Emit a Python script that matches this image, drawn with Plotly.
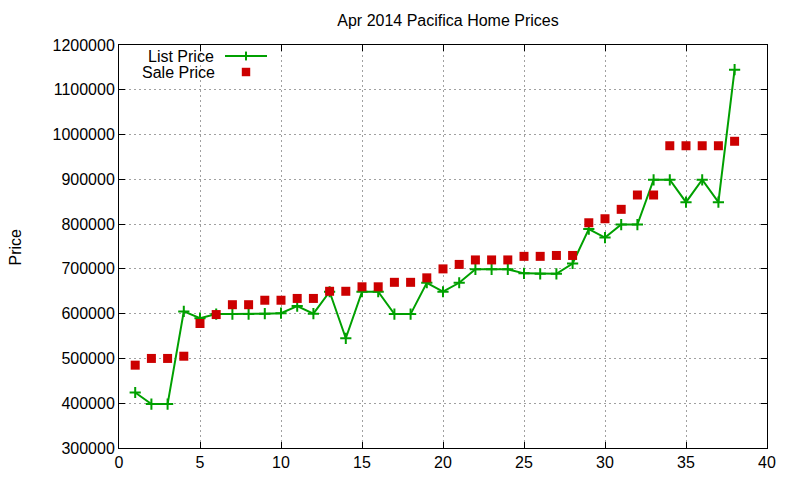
import plotly.graph_objects as go

# sale index (x axis)
houses = list(range(1, 39))

# asking price per house
list_price = [424000, 398000, 398000, 605000, 590000, 599000, 599000, 599000, 600000, 601000,
              617000, 600000, 649000, 545000, 649000, 649000, 599000, 599000, 669000, 649000,
              669000, 699000, 699000, 699000, 690000, 689000, 689000, 712000, 789000, 770000,
              799000, 799000, 899000, 899000, 849000, 899000, 849000, 1145000]

# price actually paid
sale_price = [485000, 500000, 500000, 505000, 578000, 598000, 620000, 620000, 630000, 630000,
              634000, 634000, 650000, 650000, 660000, 660000, 670000, 670000, 680000, 700000,
              710000, 720000, 720000, 720000, 728000, 728000, 730000, 730000, 803000, 812000,
              833000, 865000, 865000, 975000, 975000, 975000, 975000, 985000]

x_ticks = [0, 5, 10, 15, 20, 25, 30, 35, 40]
y_ticks = list(range(300000, 1200001, 100000))

green = "#00a000"
red = "#cc0000"
font = "Liberation Sans, Arial, sans-serif"
fsize = 16

fig = go.Figure()
fig.add_trace(go.Scatter(
    x=houses, y=list_price, mode="lines+markers", name="List Price",
    line=dict(color=green, width=2),
    marker=dict(symbol="cross-thin", size=8, line=dict(color=green, width=2)),
))
fig.add_trace(go.Scatter(
    x=houses, y=sale_price, mode="markers", name="Sale Price",
    marker=dict(symbol="square", size=9, color=red),
))

axis_common = dict(
    showline=True, linecolor="black", linewidth=1, mirror="ticks",
    ticks="inside", ticklen=6, tickcolor="black",
    showgrid=True, gridcolor="#a0a0a0", gridwidth=1, griddash="2px,3px",
    zeroline=False, tickfont=dict(family=font, size=fsize, color="black"),
)

fig.update_xaxes(range=[0, 40], tickvals=x_ticks, **axis_common)
fig.update_yaxes(range=[300000, 1200000], tickvals=y_ticks, ticktext=[str(v) for v in y_ticks],
                 **axis_common)

# gnuplot-style key: text on the left, sample on the right
lx0, lx1, lxm = 0.1636, 0.2284, 0.196
y_list, y_sale = 0.9727, 0.933
shapes = [
    dict(type="line", xref="paper", yref="paper", x0=lx0, x1=lx1, y0=y_list, y1=y_list,
         line=dict(color=green, width=2)),
    dict(type="line", xref="paper", yref="paper", x0=lxm, x1=lxm, y0=y_list - 0.011, y1=y_list + 0.011,
         line=dict(color=green, width=2)),
    dict(type="rect", xref="paper", yref="paper", x0=lxm - 0.0065, x1=lxm + 0.0065,
         y0=y_sale - 0.0105, y1=y_sale + 0.0105, fillcolor=red, line=dict(width=0)),
]
annotations = [
    dict(text="List Price", xref="paper", yref="paper", x=0.150, y=y_list, xanchor="right",
         yanchor="middle", showarrow=False, font=dict(family=font, size=fsize, color="black")),
    dict(text="Sale Price", xref="paper", yref="paper", x=0.151, y=y_sale, xanchor="right",
         yanchor="middle", showarrow=False, font=dict(family=font, size=fsize, color="black")),
    dict(text="Price", xref="paper", yref="paper", x=-0.159, y=0.5, xanchor="center",
         yanchor="middle", textangle=-90, showarrow=False,
         font=dict(family=font, size=fsize, color="black")),
]

fig.update_layout(
    width=800, height=480,
    margin=dict(l=111, r=41, t=37, b=40),
    title=dict(text="Apr 2014 Pacifica Home Prices", x=0.55, xanchor="center", y=0.975, yanchor="middle",
               font=dict(family=font, size=fsize, color="black")),
    showlegend=False,
    plot_bgcolor="white", paper_bgcolor="white",
    shapes=shapes, annotations=annotations,
)

fig.write_html("out.html")
